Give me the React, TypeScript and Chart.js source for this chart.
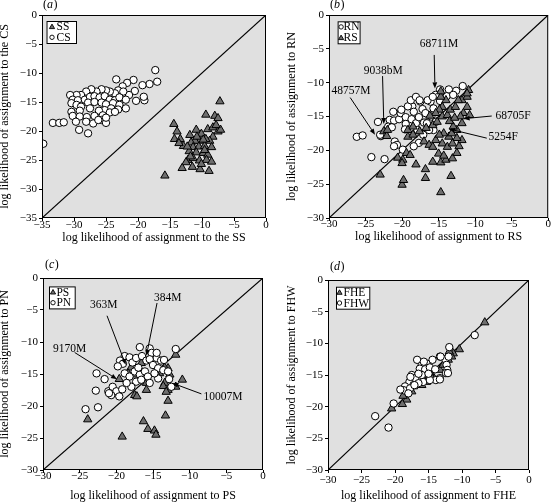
import React, { useEffect, useRef } from 'react';
import { Chart, registerables } from 'chart.js';
Chart.register(...registerables);

type Pt = [number, number];
const FONT = '"Liberation Serif", "Times New Roman", Times, serif';

// ---------- tick values ----------
const TICKS_A = [-35, -30, -25, -20, -15, -10, -5, 0];
const TICKS_30 = [-30, -25, -20, -15, -10, -5, 0];

// ---------- panel (a) ----------
const SS_A: Pt[] = [
  [-7.2, -14.9], [-9.4, -17.2], [-8.0, -17.4], [-7.5, -17.8], [-14.4, -18.8], [-13.9, -20.1], [-14.3, -21.4],
  [-13.4, -21.4], [-12.9, -22.6], [-13.6, -22.1], [-11.9, -20.7], [-10.9, -19.8], [-10.1, -20.5], [-9.1, -19.7],
  [-8.3, -19.4], [-7.5, -20.1], [-7.1, -19.8], [-8.3, -21.0], [-8.8, -21.7], [-9.4, -21.4], [-10.4, -21.7],
  [-11.1, -21.7], [-11.7, -22.0], [-11.4, -22.8], [-10.5, -22.7], [-9.6, -22.6], [-8.5, -22.8], [-12.0, -23.5],
  [-10.9, -23.7], [-9.8, -23.8], [-9.1, -24.1], [-12.2, -25.0], [-11.4, -24.7], [-10.4, -25.1], [-9.3, -25.0],
  [-8.5, -25.3], [-12.5, -25.4], [-13.1, -26.4], [-11.5, -26.2], [-10.3, -26.6], [-8.9, -26.9], [-10.1, -25.7],
  [-15.8, -27.7], [-12.3, -22.7], [-10.8, -21.0], [-9.8, -21.5], [-7.8, -19.0], [-11.8, -24.4], [-9.6, -23.3],
];
const CS_A: Pt[] = [
  [-17.3, -9.5], [-17.0, -11.5], [-18.2, -11.9], [-19.3, -12.1], [-20.7, -11.2], [-21.7, -11.7], [-23.4, -11.1],
  [-22.4, -12.3], [-23.1, -13.0], [-20.5, -13.1], [-21.4, -13.8], [-22.3, -13.2], [-23.6, -13.5], [-24.4, -13.2],
  [-25.0, -13.0], [-25.7, -12.8], [-26.5, -13.2], [-27.3, -12.8], [-28.1, -13.2], [-28.9, -13.8], [-29.6, -13.8],
  [-30.6, -13.8], [-30.2, -14.6], [-29.4, -14.7], [-28.3, -14.6], [-27.5, -14.1], [-26.8, -14.0], [-26.0, -14.2],
  [-25.2, -14.0], [-24.4, -14.6], [-23.6, -14.7], [-22.9, -14.2], [-21.9, -14.6], [-20.3, -14.8], [-19.0, -14.7],
  [-19.1, -14.1], [-30.4, -15.2], [-29.6, -15.5], [-28.9, -15.8], [-27.8, -15.1], [-26.8, -15.0], [-25.7, -15.1],
  [-25.0, -15.4], [-23.9, -15.2], [-22.9, -15.5], [-21.9, -16.1], [-23.1, -16.3], [-24.2, -16.1], [-25.2, -16.4],
  [-26.1, -16.5], [-27.5, -16.1], [-29.1, -16.5], [-30.4, -16.7], [-30.2, -17.4], [-29.1, -17.5], [-28.0, -17.6],
  [-26.8, -17.4], [-25.5, -17.3], [-24.4, -16.8], [-23.6, -16.7], [-29.7, -18.4], [-28.1, -18.4], [-27.0, -18.7],
  [-25.7, -18.1], [-25.0, -18.6], [-33.3, -18.6], [-32.3, -18.6], [-31.6, -18.5], [-29.2, -19.8], [-27.8, -20.4],
  [-25.0, -17.7], [-26.2, -18.1], [-34.8, -22.2],
];

// ---------- panel (b) ----------
const RN_B: Pt[] = [
  [-26.2, -18.0], [-25.4, -17.8], [-24.2, -21.0], [-22.4, -21.3], [-23.3, -15.8], [-21.7, -15.5], [-21.1, -15.6],
  [-21.9, -16.5], [-21.4, -16.6], [-22.6, -17.6], [-22.9, -17.9], [-20.4, -15.4], [-20.2, -14.5], [-19.5, -15.1],
  [-19.5, -16.1], [-19.6, -16.9], [-21.0, -18.7], [-20.7, -19.2], [-19.9, -19.9], [-21.1, -19.4], [-18.6, -13.5],
  [-18.4, -14.3], [-18.7, -15.4], [-18.1, -16.0], [-18.8, -16.9], [-17.9, -17.0], [-17.7, -15.1], [-17.5, -12.8],
  [-17.2, -13.9], [-16.8, -14.5], [-17.0, -15.9], [-16.6, -16.0], [-17.1, -17.7], [-16.1, -12.8], [-15.7, -13.8],
  [-16.0, -15.0], [-15.4, -15.8], [-15.7, -17.0], [-16.3, -17.0], [-14.8, -11.0], [-13.6, -11.0], [-12.6, -11.2],
  [-11.7, -10.5], [-13.9, -12.0], [-13.0, -11.8], [-14.8, -12.7], [-15.4, -11.8], [-17.7, -18.9], [-18.4, -19.4],
  [-20.1, -14.0], [-19.2, -13.5], [-18.8, -12.6], [-18.1, -12.1], [-17.6, -12.6], [-16.5, -12.6], [-15.8, -12.1],
  [-21.2, -14.3], [-22.5, -17.5], [-23.0, -17.7],
];
const RS_B: Pt[] = [
  [-23.0, -23.6], [-20.0, -25.1], [-19.8, -24.4], [-20.6, -21.1], [-19.9, -21.4], [-20.0, -21.9], [-19.4, -20.4],
  [-18.9, -20.7], [-18.1, -22.1], [-16.8, -24.1], [-16.8, -22.8], [-14.7, -26.2], [-13.3, -23.8], [-15.8, -21.7],
  [-14.7, -21.8], [-14.0, -21.4], [-13.1, -21.2], [-15.0, -20.5], [-14.3, -20.8], [-12.5, -20.4], [-12.2, -19.4],
  [-11.8, -18.5], [-12.5, -18.2], [-17.0, -18.7], [-16.3, -19.2], [-15.8, -19.5], [-15.4, -18.5], [-14.5, -19.0],
  [-13.8, -19.5], [-13.1, -19.0], [-13.6, -18.0], [-14.3, -17.5], [-14.9, -17.7], [-19.2, -17.0], [-18.5, -16.5],
  [-17.6, -17.2], [-16.7, -16.7], [-15.8, -16.3], [-15.2, -15.8], [-14.5, -15.0], [-13.8, -14.8], [-13.4, -14.0],
  [-12.7, -13.6], [-14.5, -13.6], [-14.0, -12.6], [-14.9, -14.0], [-15.4, -14.5], [-14.7, -12.1], [-14.7, -11.3],
  [-11.8, -12.6], [-11.1, -12.1], [-10.9, -11.1], [-11.1, -13.6], [-11.6, -14.5], [-11.1, -11.6], [-12.3, -12.6],
  [-12.0, -15.0], [-11.8, -16.0], [-12.5, -17.0], [-10.75, -14.8], [-22.5, -17.2], [-22.1, -17.9], [-19.2, -18.0],
  [-18.5, -17.7], [-22.0, -17.0], [-13.0, -16.5], [-13.5, -15.7], [-12.8, -15.2], [-16.2, -14.9], [-13.2, -17.5],
];

// ---------- panel (c) ----------
const PS_C: Pt[] = [
  [-11.9, -12.0], [-16.6, -13.3], [-17.7, -15.1], [-19.6, -15.8], [-14.1, -14.9], [-12.95, -14.1], [-12.7, -15.1],
  [-13.4, -16.4], [-12.95, -17.5], [-11.9, -17.0], [-11.0, -15.9], [-15.9, -16.4], [-15.9, -17.5], [-17.5, -18.3],
  [-17.2, -18.5], [-12.95, -19.2], [-13.3, -21.5], [-23.9, -22.1], [-16.3, -22.4], [-15.7, -23.6], [-14.8, -23.85],
  [-14.6, -24.5], [-19.2, -24.8], [-18.0, -14.0], [-17.0, -14.6], [-18.4, -14.9], [-13.4, -14.0], [-14.5, -15.0],
  [-13.6, -16.9], [-13.2, -17.8],
];
const PN_C: Pt[] = [
  [-16.8, -10.8], [-11.9, -11.1], [-15.45, -11.0], [-15.2, -11.7], [-14.5, -12.5], [-13.9, -12.9], [-14.5, -11.7],
  [-18.86, -12.2], [-18.2, -12.4], [-19.5, -12.9], [-19.1, -13.4], [-17.8, -13.2], [-17.3, -12.5], [-16.5, -12.2],
  [-15.9, -12.9], [-15.45, -12.7], [-15.0, -13.6], [-14.3, -14.1], [-13.6, -14.4], [-12.95, -14.6], [-22.7, -14.9],
  [-21.6, -15.8], [-22.8, -17.6], [-21.1, -17.7], [-20.5, -17.0], [-20.0, -17.7], [-19.2, -17.4], [-19.6, -18.5],
  [-20.7, -18.3], [-18.86, -14.9], [-18.2, -15.4], [-17.5, -14.6], [-16.8, -15.1], [-16.1, -14.6], [-15.7, -15.4],
  [-17.3, -16.2], [-16.6, -15.9], [-17.95, -17.0], [-18.6, -16.4], [-15.45, -16.4], [-24.2, -20.5], [-22.5, -20.2],
  [-12.8, -15.8], [-12.5, -17.0], [-14.3, -15.7], [-14.8, -14.9], [-21.0, -18.0], [-13.5, -12.8], [-19.8, -13.8],
  [-17.0, -14.0],
];

// ---------- panel (d) ----------
const FHE_D: Pt[] = [
  [-6.6, -6.7], [-10.4, -10.95], [-11.3, -11.6], [-11.55, -12.1], [-11.9, -11.3], [-18.25, -18.9], [-18.5, -17.9],
  [-17.5, -17.6], [-18.8, -18.3], [-20.5, -20.3], [-16.0, -16.6], [-15.3, -16.1], [-14.3, -15.3], [-13.3, -14.2],
  [-12.8, -13.4], [-12.05, -12.6], [-17.25, -16.8], [-14.8, -14.7], [-18.9, -19.6], [-15.5, -14.8], [-14.5, -15.5],
];
const FHW_D: Pt[] = [
  [-8.1, -8.7], [-22.96, -21.5], [-20.97, -23.3], [-20.2, -19.5], [-11.9, -10.6], [-13.3, -12.1], [-12.5, -12.5],
  [-12.3, -13.4], [-12.2, -14.2], [-12.4, -14.7], [-14.4, -12.6], [-15.3, -13.2], [-16.0, -13.4], [-16.3, -14.0],
  [-15.5, -14.1], [-14.8, -13.8], [-14.0, -14.1], [-13.3, -15.5], [-13.9, -15.8], [-17.5, -15.0], [-17.0, -15.5],
  [-16.0, -15.0], [-15.8, -16.1], [-14.8, -15.8], [-16.5, -16.3], [-17.85, -16.1], [-18.5, -16.8], [-17.25, -16.6],
  [-18.7, -17.4], [-17.75, -17.1], [-18.0, -17.9], [-16.7, -12.6], [-15.7, -12.9], [-13.2, -12.1], [-12.0, -12.1],
  [-17.7, -15.3], [-16.5, -14.8], [-15.0, -14.8], [-13.3, -15.7], [-17.1, -16.6], [-12.1, -14.7], [-19.2, -17.3],
];

// ---------- labelled individuals (text centre, arrow start, arrow tip; data units) ----------
type Note = { text: string; tx: number; ty: number; x0: number; y0: number; x1: number; y1: number };
const NOTES_B: Note[] = [
  { text: '68711M', tx: -14.94, ty: -4.21, x0: -15.6, y0: -5.9, x1: -15.5, y1: -10.85 },
  { text: '9038bM', tx: -22.58, ty: -8.2, x0: -22.67, y0: -9.03, x1: -22.5, y1: -16.1 },
  { text: '48757M', tx: -26.99, ty: -11.24, x0: -27.1, y0: -12.2, x1: -23.7, y1: -17.7 },
  { text: '68705F', tx: -4.82, ty: -14.88, x0: -7.73, y0: -14.93, x1: -11.57, y1: -15.32 },
  { text: '5254F', tx: -6.17, ty: -18.07, x0: -8.41, y0: -18.2, x1: -13.59, y1: -16.84 },
];
const NOTES_C: Note[] = [
  { text: '384M', tx: -12.99, ty: -3.13, x0: -14.45, y0: -3.91, x1: -15.9, y1: -12.16 },
  { text: '363M', tx: -21.72, ty: -4.18, x0: -21.27, y0: -5.9, x1: -18.72, y1: -13.57 },
  { text: '9170M', tx: -26.36, ty: -11.11, x0: -25.68, y0: -11.64, x1: -19.91, y1: -15.81 },
  { text: '10007M', tx: -5.45, ty: -18.53, x0: -8.4, y0: -18.11, x1: -12.35, y1: -16.43 },
];

// ---------- styles ----------
const BG = '#e0e0e0';
const TRI_FILL = '#6e6e6e';

type Shape = 'triangle' | 'circle';
type Series = { label: string; data: Pt[]; shape: Shape; front: boolean };
type PanelCfg = {
  letter: string;
  left: number; top: number; w: number; h: number;
  area: { l: number; r: number; t: number; b: number };
  ticks: number[];
  xTitle: string; yTitle: string;
  xTitlePad: number; yTitlePad: number; xTickPad: number;
  series: Series[];
  legend: { dx: number; dy: number; w: number; mdx: number; tdx: number };
  letterPos: { dx: number; dy: number };
  notes: Note[];
};

const PANELS: PanelCfg[] = [
  {
    letter: 'a', left: 0, top: 0, w: 277, h: 250,
    area: { l: 42, r: 266, t: 15, b: 218 }, ticks: TICKS_A,
    xTitle: 'log likelihood of assignment to the SS', yTitle: 'log likelihood of assignment to the CS',
    xTitlePad: 5.8, yTitlePad: -1, xTickPad: -1,
    series: [
      { label: 'SS', data: SS_A, shape: 'triangle', front: false },
      { label: 'CS', data: CS_A, shape: 'circle', front: true },
    ],
    legend: { dx: 4.5, dy: 6, w: 30.5, mdx: 5.5, tdx: 10 },
    letterPos: { dx: 1, dy: -10 }, notes: [],
  },
  {
    letter: 'b', left: 277, top: 0, w: 277, h: 250,
    area: { l: 52, r: 274, t: 15, b: 218 }, ticks: TICKS_30,
    xTitle: 'log likelihood of assignment to RS', yTitle: 'log likelihood of assignment to RN',
    xTitlePad: 7.4, yTitlePad: 9, xTickPad: -2,
    series: [
      { label: 'RN', data: RN_B, shape: 'circle', front: false },
      { label: 'RS', data: RS_B, shape: 'triangle', front: true },
    ],
    legend: { dx: 8.6, dy: 6.3, w: 23, mdx: 3.5, tdx: 6 },
    letterPos: { dx: 1, dy: -10 }, notes: NOTES_B,
  },
  {
    letter: 'c', left: 0, top: 250, w: 277, h: 253,
    area: { l: 43, r: 263, t: 28, b: 220 }, ticks: TICKS_30,
    xTitle: 'log likelihood of assignment to PS', yTitle: 'log likelihood of assignment to PN',
    xTitlePad: 1.1, yTitlePad: -1, xTickPad: -2,
    series: [
      { label: 'PS', data: PS_C, shape: 'triangle', front: false },
      { label: 'PN', data: PN_C, shape: 'circle', front: true },
    ],
    legend: { dx: 6, dy: 8.4, w: 26.7, mdx: 4, tdx: 7.4 },
    letterPos: { dx: 2, dy: -13 }, notes: NOTES_C,
  },
  {
    letter: 'd', left: 277, top: 250, w: 277, h: 253,
    area: { l: 51, r: 252, t: 30, b: 220 }, ticks: TICKS_30,
    xTitle: 'log likelihood of assignment to FHE', yTitle: 'log likelihood of assignment to FHW',
    xTitlePad: 1.1, yTitlePad: 9, xTickPad: 1.5,
    series: [
      { label: 'FHE', data: FHE_D, shape: 'triangle', front: false },
      { label: 'FHW', data: FHW_D, shape: 'circle', front: true },
    ],
    legend: { dx: 8, dy: 6.7, w: 34.3, mdx: 3.5, tdx: 7.5 },
    letterPos: { dx: 2, dy: -13.5 }, notes: [],
  },
];

const fmt = (v: number) => (v === 0 ? '0' : (v < 0 ? '\u2212' : '') + Math.abs(v));

function drawMarker(ctx: CanvasRenderingContext2D, shape: Shape, x: number, y: number, r: number) {
  ctx.save();
  ctx.lineWidth = 0.9;
  ctx.strokeStyle = '#000';
  ctx.beginPath();
  if (shape === 'circle') {
    ctx.fillStyle = '#fff';
    ctx.arc(x, y, r, 0, Math.PI * 2);
  } else {
    ctx.fillStyle = TRI_FILL;
    const a = Math.PI * 2 / 3;
    for (let i = 0; i < 3; i++) {
      const px = x + Math.sin(i * a) * r;
      const py = y - Math.cos(i * a) * r;
      if (i === 0) ctx.moveTo(px, py); else ctx.lineTo(px, py);
    }
    ctx.closePath();
  }
  ctx.fill();
  ctx.stroke();
  ctx.restore();
}

function drawArrow(ctx: CanvasRenderingContext2D, x0: number, y0: number, x1: number, y1: number) {
  const a = Math.atan2(y1 - y0, x1 - x0);
  const L = 6, W = 2.4;
  const bx = x1 - L * Math.cos(a), by = y1 - L * Math.sin(a);
  ctx.beginPath();
  ctx.moveTo(x0, y0);
  ctx.lineTo(bx, by);
  ctx.stroke();
  ctx.beginPath();
  ctx.moveTo(x1, y1);
  ctx.lineTo(bx + W * Math.sin(a), by - W * Math.cos(a));
  ctx.lineTo(bx - W * Math.sin(a), by + W * Math.cos(a));
  ctx.closePath();
  ctx.fill();
}

function Panel({ cfg }: { cfg: PanelCfg }) {
  const ref = useRef<HTMLCanvasElement | null>(null);
  useEffect(() => {
    const canvas = ref.current;
    if (!canvas) return;
    const min = cfg.ticks[0];
    const { area, w, h } = cfg;

    const datasets: any[] = [
      {
        type: 'line', label: 'diag', data: [{ x: min, y: min }, { x: 0, y: 0 }],
        borderColor: '#000', borderWidth: 1.2, pointRadius: 0, order: 10, fill: false,
      },
    ];
    cfg.series.forEach((s) => {
      datasets.push({
        type: 'scatter', label: s.label,
        data: s.data.map(([x, y]) => ({ x, y })),
        pointStyle: s.shape,
        pointRadius: s.shape === 'circle' ? 3.7 : 4.8,
        backgroundColor: s.shape === 'circle' ? '#ffffff' : TRI_FILL,
        borderColor: '#000', borderWidth: 1,
        order: s.front ? 0 : 1,
      });
    });

    const framePlugin = {
      id: 'frame' + cfg.letter,
      beforeDraw(chart: any) {
        const { ctx, chartArea: ca } = chart;
        ctx.save();
        ctx.fillStyle = '#fff';
        ctx.fillRect(0, 0, chart.width, chart.height);
        ctx.fillStyle = BG;
        ctx.fillRect(ca.left, ca.top, ca.right - ca.left, ca.bottom - ca.top);
        ctx.restore();
      },
      afterDraw(chart: any) {
        const { ctx, chartArea: ca, scales } = chart;
        const xs = scales.x, ys = scales.y;
        ctx.save();
        // frame
        ctx.strokeStyle = '#000';
        ctx.lineWidth = 1;
        ctx.strokeRect(ca.left + 0.5, ca.top + 0.5, ca.right - ca.left - 1, ca.bottom - ca.top - 1);
        // notes
        ctx.fillStyle = '#000';
        ctx.strokeStyle = '#000';
        ctx.lineWidth = 1;
        ctx.font = `11.5px ${FONT}`;
        ctx.textAlign = 'center';
        ctx.textBaseline = 'middle';
        cfg.notes.forEach((n) => {
          ctx.fillText(n.text, xs.getPixelForValue(n.tx), ys.getPixelForValue(n.ty));
          drawArrow(ctx, xs.getPixelForValue(n.x0), ys.getPixelForValue(n.y0),
            xs.getPixelForValue(n.x1), ys.getPixelForValue(n.y1));
        });
        // legend
        const lg = cfg.legend;
        const bx = ca.left + lg.dx, by = ca.top + lg.dy;
        ctx.fillStyle = '#fff';
        ctx.fillRect(bx, by, lg.w, 22.5);
        ctx.strokeStyle = '#000';
        ctx.lineWidth = 1;
        ctx.strokeRect(bx + 0.5, by + 0.5, lg.w - 1, 22);
        ctx.font = `11.5px ${FONT}`;
        ctx.textAlign = 'left';
        ctx.textBaseline = 'middle';
        const rows = [5.6, 16.3];
        cfg.series.forEach((s, i) => {
          const ry = by + rows[i];
          drawMarker(ctx, s.shape, bx + lg.mdx, ry + (s.shape === 'triangle' ? 0.5 : 0), s.shape === 'circle' ? 2.2 : 3);
          ctx.fillStyle = '#000';
          ctx.fillText(s.label, bx + lg.tdx, ry + 0.5);
        });
        // panel letter
        const lx = ca.left + cfg.letterPos.dx, ly = ca.top + cfg.letterPos.dy;
        ctx.fillStyle = '#000';
        ctx.font = `12px ${FONT}`;
        ctx.fillText('(', lx, ly);
        let cx = lx + ctx.measureText('(').width;
        ctx.font = `italic 12px ${FONT}`;
        ctx.fillText(cfg.letter, cx, ly);
        cx += ctx.measureText(cfg.letter).width + 0.5;
        ctx.font = `12px ${FONT}`;
        ctx.fillText(')', cx, ly);
        ctx.restore();
      },
    };

    const tickFont = { family: FONT, size: 11, lineHeight: 1 };
    const titleFont = { family: FONT, size: 12, lineHeight: 1 };
    const gridCfg = { drawOnChartArea: false, drawTicks: true, tickLength: 3, color: '#000', lineWidth: 1 };

    const chart = new Chart(canvas, {
      type: 'scatter',
      data: { datasets },
      plugins: [framePlugin],
      options: {
        animation: false,
        responsive: false,
        maintainAspectRatio: false,
        devicePixelRatio: 1,
        events: [],
        layout: { padding: { left: 0, top: area.t, right: w - area.r, bottom: 0 } },
        plugins: { legend: { display: false }, tooltip: { enabled: false }, title: { display: false } },
        scales: {
          x: {
            type: 'linear', position: 'bottom', min, max: 0,
            afterBuildTicks: (axis: any) => { axis.ticks = cfg.ticks.map((v) => ({ value: v })); },
            afterFit: (axis: any) => { axis.height = h - area.b; },
            ticks: { callback: (v: any) => fmt(Number(v)), font: tickFont, color: '#000', padding: cfg.xTickPad, maxRotation: 0, autoSkip: false },
            grid: gridCfg,
            border: { display: false },
            title: { display: true, text: cfg.xTitle, font: titleFont, color: '#000', padding: { top: 0, bottom: cfg.xTitlePad } },
          },
          y: {
            type: 'linear', position: 'left', min, max: 0,
            afterBuildTicks: (axis: any) => { axis.ticks = cfg.ticks.map((v) => ({ value: v })); },
            afterFit: (axis: any) => { axis.width = area.l; },
            ticks: { callback: (v: any) => fmt(Number(v)), font: tickFont, color: '#000', padding: 2, autoSkip: false },
            grid: gridCfg,
            border: { display: false },
            title: { display: true, text: cfg.yTitle, font: titleFont, color: '#000', padding: { top: cfg.yTitlePad, bottom: 0 } },
          },
        },
      } as any,
    });
    return () => chart.destroy();
  }, [cfg]);

  return (
    <canvas
      ref={ref}
      width={cfg.w}
      height={cfg.h}
      style={{ position: 'absolute', left: cfg.left, top: cfg.top, width: cfg.w, height: cfg.h }}
    />
  );
}

export default function App() {
  return (
    <div style={{ position: 'absolute', left: 0, top: 0, width: 554, height: 503, background: '#fff' }}>
      {PANELS.map((p) => (
        <Panel key={p.letter} cfg={p} />
      ))}
    </div>
  );
}
